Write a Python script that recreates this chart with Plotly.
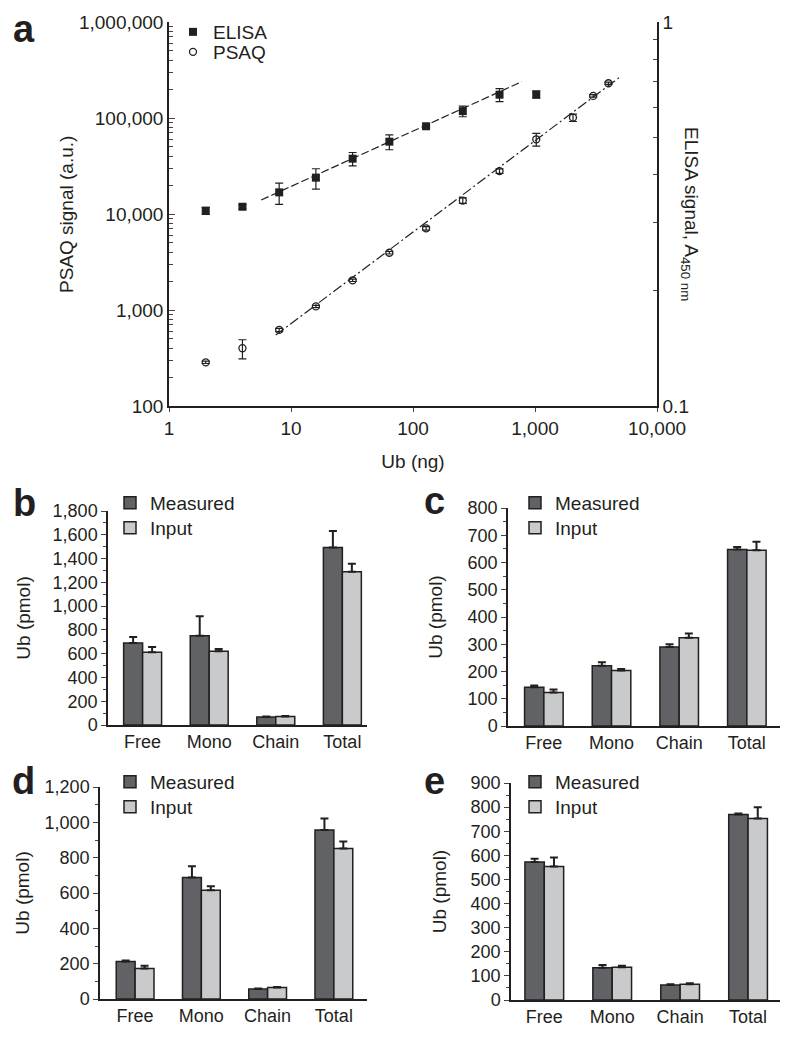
import plotly.graph_objects as go

# page body has an 8px margin, so the figure is sized to fill the rest of the window
OFF = 8
W, H = 795 - OFF, 1040 - OFF
FONT = "Arial, Liberation Sans, sans-serif"
INK = "#231f20"
DARK = "#616265"
LIGHT = "#c9cacc"

# ---- panel a data ----
elisa_ng = [2, 4, 8, 16, 32, 64, 128, 256, 512, 1024]
elisa_sig = [10800, 11900, 16800, 23900, 37700, 56700, 82000, 118000, 175000, 176000]
elisa_err = [900, 600, 4200, 5700, 6000, 10000, 3000, 15000, 27000, 15000]

psaq_ng = [2, 4, 8, 16, 32, 64, 128, 256, 512, 1024, 2048, 3000, 4000]
psaq_sig = [285, 400, 620, 1090, 2040, 3950, 7100, 13800, 28000, 60000, 101000, 170000, 230000]
psaq_err = [8, 90, 25, 30, 60, 120, 300, 900, 1500, 9000, 9000, 5000, 6000]

elisa_fit_x = [5.7, 780]
elisa_fit_y = [14000, 239000]
psaq_fit_x = [7.5, 5000]
psaq_fit_y = [549, 269000]

left_tickvals = [100, 1000, 10000, 100000, 1000000]
left_ticktext = ["100", "1,000", "10,000", "100,000", "1,000,000"]
x_tickvals = [1, 10, 100, 1000, 10000]
x_ticktext = ["1", "10", "100", "1,000", "10,000"]

# ---- bar panels ----
cats = ["Free", "Mono", "Chain", "Total"]

b_meas = [690, 750, 67, 1494]
b_meas_err = [50, 165, 5, 137]
b_inp = [611, 620, 72, 1289]
b_inp_err = [45, 20, 3, 68]

c_meas = [142, 221, 290, 648]
c_meas_err = [7, 13, 10, 9]
c_inp = [123, 204, 324, 645]
c_inp_err = [11, 5, 15, 31]

d_meas = [212, 688, 56, 957]
d_meas_err = [6, 63, 4, 64]
d_inp = [173, 615, 65, 852]
d_inp_err = [15, 23, 3, 40]

e_meas = [572, 134, 62, 769]
e_meas_err = [14, 11, 3, 5]
e_inp = [554, 136, 65, 753]
e_inp_err = [37, 6, 4, 46]


def px(x):
    return (x - OFF) / W


def py(y):
    return 1 - (y - OFF) / H


fig = go.Figure()

# panel a
fig.add_trace(go.Scatter(x=elisa_fit_x, y=elisa_fit_y, mode="lines",
                         line=dict(color=INK, width=1.2, dash="8px,3px"),
                         showlegend=False, hoverinfo="skip", xaxis="x", yaxis="y"))
fig.add_trace(go.Scatter(x=psaq_fit_x, y=psaq_fit_y, mode="lines",
                         line=dict(color=INK, width=1.2, dash="10px,3px,2px,3px"),
                         showlegend=False, hoverinfo="skip", xaxis="x", yaxis="y"))
fig.add_trace(go.Scatter(x=elisa_ng, y=elisa_sig, mode="markers", name="ELISA",
                         marker=dict(symbol="square", size=8, color=INK),
                         error_y=dict(type="data", array=elisa_err, color=INK, thickness=1.2, width=4),
                         xaxis="x", yaxis="y", legend="legend"))
fig.add_trace(go.Scatter(x=psaq_ng, y=psaq_sig, mode="markers", name="PSAQ",
                         marker=dict(symbol="circle-open", size=7, color=INK, line=dict(width=1.3)),
                         error_y=dict(type="data", array=psaq_err, color=INK, thickness=1.2, width=4),
                         xaxis="x", yaxis="y", legend="legend6"))

panels = [
    ("2", b_meas, b_meas_err, b_inp, b_inp_err, "legend2", "legend7"),
    ("3", c_meas, c_meas_err, c_inp, c_inp_err, "legend3", "legend8"),
    ("4", d_meas, d_meas_err, d_inp, d_inp_err, "legend4", "legend9"),
    ("5", e_meas, e_meas_err, e_inp, e_inp_err, "legend5", "legend10"),
]
for k, meas, meas_err, inp, inp_err, leg_m, leg_i in panels:
    fig.add_trace(go.Bar(x=cats, y=meas, name="Measured", marker=dict(color=DARK, line=dict(color=INK, width=1.5)),
                         error_y=dict(type="data", array=meas_err, arrayminus=[0] * 4, color=INK, thickness=2, width=4),
                         xaxis="x" + k, yaxis="y" + k, legend=leg_m))
    fig.add_trace(go.Bar(x=cats, y=inp, name="Input", marker=dict(color=LIGHT, line=dict(color=INK, width=1.5)),
                         error_y=dict(type="data", array=inp_err, arrayminus=[0] * 4, color=INK, thickness=2, width=4),
                         xaxis="x" + k, yaxis="y" + k, legend=leg_i))

tickfont = dict(family=FONT, size=18, color=INK)
titlefont = dict(family=FONT, size=19, color=INK)
legfont = dict(family=FONT, size=19, color=INK)


def legend_at(x, y):
    # x: left edge of legend box, y: vertical centre of the single item (pixels)
    return dict(x=px(x), y=py(y), xanchor="left", yanchor="middle", bgcolor="rgba(0,0,0,0)",
                font=legfont, tracegroupgap=0, borderwidth=0)


layout = dict(
    width=W, height=H, margin=dict(l=0, r=0, t=0, b=0, autoexpand=False),
    paper_bgcolor="white", plot_bgcolor="white",
    font=dict(family=FONT, color=INK),
    barmode="group", bargap=0.43, bargroupgap=0,
    xaxis=dict(domain=[px(169), px(657)], type="log", range=[0, 4], anchor="y", automargin=False,
               tickvals=x_tickvals, ticktext=x_ticktext, ticks="outside", ticklen=4,
               showline=True, linecolor=INK, linewidth=1.5, showgrid=False, zeroline=False,
               tickfont=dict(family=FONT, size=19, color=INK),
               title=dict(text="Ub (ng)", font=titlefont, standoff=17)),
    yaxis=dict(domain=[py(406), py(22)], type="log", range=[2, 6], anchor="x", automargin=False,
               tickvals=left_tickvals, ticktext=left_ticktext, ticks="inside", ticklen=6,
               minor=dict(ticks="inside", ticklen=4, tickvals=[m * 10 ** e for e in range(2, 6) for m in range(2, 10)]),
               showline=True, linecolor=INK, linewidth=1.5, showgrid=False, zeroline=False,
               tickfont=dict(family=FONT, size=19, color=INK)),
    yaxis6=dict(overlaying="y", side="right", anchor="x", type="log", range=[-1, 0], automargin=False,
                tickvals=[0.1, 1], ticktext=["0.1", "1"], ticks="inside", ticklen=6,
                minor=dict(ticks="inside", ticklen=4, tickvals=[0.2, 0.3, 0.4, 0.5, 0.6, 0.7, 0.8, 0.9]),
                showline=True, linecolor=INK, linewidth=1.5, showgrid=False, zeroline=False,
                tickfont=dict(family=FONT, size=19, color=INK)),
    legend=legend_at(173, 32),
    legend6=legend_at(173, 52),
)

bar_specs = {
    "2": dict(xd=[108, 367], yd=[725, 511], top=1800, dt=200, xr=[-0.52, 3.37], lx=110, ly=503, so=17),
    "3": dict(xd=[508, 780], yd=[726, 508], top=800, dt=100, xr=[-0.53, 3.49], lx=515, ly=503, so=20),
    "4": dict(xd=[100, 367], yd=[999, 787], top=1200, dt=200, xr=[-0.53, 3.5], lx=110, ly=782, so=10),
    "5": dict(xd=[511, 780], yd=[1000, 783], top=900, dt=100, xr=[-0.49, 3.47], lx=515, ly=782, so=19),
}
second = {"2": "7", "3": "8", "4": "9", "5": "10"}
for k, s in bar_specs.items():
    layout["xaxis" + k] = dict(domain=[px(s["xd"][0]), px(s["xd"][1])], anchor="y" + k, type="category",
                               range=s["xr"], showline=True, linecolor=INK, linewidth=1.5, automargin=False,
                               ticks="", showgrid=False, zeroline=False, tickfont=tickfont)
    layout["yaxis" + k] = dict(domain=[py(s["yd"][0]), py(s["yd"][1])], anchor="x" + k, automargin=False,
                               range=[0, s["top"]], dtick=s["dt"], tickformat=",",
                               ticks="outside", ticklen=5, minor=dict(ticks="outside", ticklen=3, dtick=s["dt"] / 2),
                               showline=True, linecolor=INK, linewidth=1.5, showgrid=False, zeroline=False,
                               tickfont=tickfont, title=dict(text="Ub (pmol)", font=titlefont, standoff=s["so"]))
    layout["legend" + k] = legend_at(s["lx"], s["ly"])
    layout["legend" + second[k]] = legend_at(s["lx"], s["ly"] + 25)

fig.update_layout(**layout)

# invisible anchor trace so the right axis is drawn
fig.add_trace(go.Scatter(x=[1], y=[0.5], mode="markers", marker=dict(opacity=0), showlegend=False,
                         hoverinfo="skip", xaxis="x", yaxis="y6"))

letters = [("a", 24, 29), ("b", 24, 503), ("c", 435, 501), ("d", 23, 781), ("e", 435, 781)]
for t, x, y in letters:
    fig.add_annotation(text="<b>%s</b>" % t, x=px(x), y=py(y), xref="paper", yref="paper",
                       xanchor="center", yanchor="middle",
                       showarrow=False, font=dict(family=FONT, size=38, color=INK))

fig.add_annotation(text="PSAQ signal (a.u.)", x=px(66), y=py(214), xref="paper", yref="paper",
                   xanchor="center", yanchor="middle", textangle=-90, showarrow=False, font=titlefont)
fig.add_annotation(text="ELISA signal, A<sub>450 nm</sub>", x=px(690), y=py(214), xref="paper", yref="paper",
                   xanchor="center", yanchor="middle", textangle=90, showarrow=False, font=titlefont)

fig.write_html("out.html")
